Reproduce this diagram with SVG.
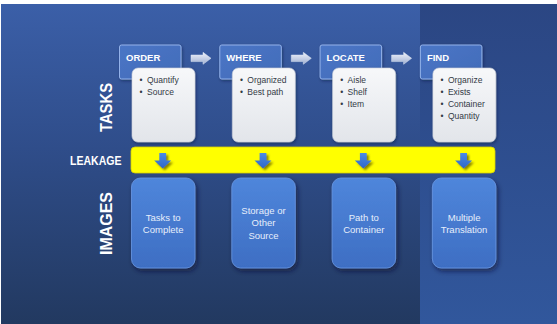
<svg xmlns="http://www.w3.org/2000/svg" width="557" height="324" viewBox="0 0 557 324">
  <defs>
    <linearGradient id="bgLeft" x1="0" y1="0" x2="0" y2="1">
      <stop offset="0" stop-color="#3b5fa8"/>
      <stop offset="0.45" stop-color="#2f4d8a"/>
      <stop offset="1" stop-color="#223960"/>
    </linearGradient>
    <linearGradient id="bgRight" x1="0" y1="0" x2="0" y2="1">
      <stop offset="0" stop-color="#2b4683"/>
      <stop offset="1" stop-color="#31579c"/>
    </linearGradient>
    <linearGradient id="hdr" x1="0" y1="0" x2="1" y2="1">
      <stop offset="0" stop-color="#4b76c6"/>
      <stop offset="1" stop-color="#416bb9"/>
    </linearGradient>
    <linearGradient id="card" x1="0" y1="0" x2="0" y2="1">
      <stop offset="0" stop-color="#f7f8fa"/>
      <stop offset="1" stop-color="#e2e5ea"/>
    </linearGradient>
    <linearGradient id="img" x1="0" y1="0" x2="0" y2="1">
      <stop offset="0" stop-color="#4f86db"/>
      <stop offset="1" stop-color="#3e6ec3"/>
    </linearGradient>
    <linearGradient id="rarrow" x1="0" y1="0" x2="0" y2="1">
      <stop offset="0" stop-color="#eef1f8"/>
      <stop offset="0.5" stop-color="#c8d2e7"/>
      <stop offset="1" stop-color="#9eaed0"/>
    </linearGradient>
    <linearGradient id="darrow" x1="0" y1="0" x2="0" y2="1">
      <stop offset="0" stop-color="#4b8be6"/>
      <stop offset="1" stop-color="#2f66c6"/>
    </linearGradient>
    <filter id="shadow" x="-20%" y="-20%" width="150%" height="150%">
      <feDropShadow dx="2" dy="3" stdDeviation="2.5" flood-color="#0a1530" flood-opacity="0.6"/>
    </filter>
    <filter id="softShadow" x="-20%" y="-20%" width="150%" height="150%">
      <feDropShadow dx="1" dy="1.5" stdDeviation="1.5" flood-color="#0a1530" flood-opacity="0.45"/>
    </filter>
    <filter id="arrowShadow" x="-40%" y="-40%" width="200%" height="200%">
      <feDropShadow dx="2" dy="2" stdDeviation="1.3" flood-color="#5e5800" flood-opacity="0.75"/>
    </filter>
    <path id="rightArrow" d="M191,55 H203 V52.3 L211,58.3 L203,64.3 V61.6 H191 Z"/>
    <path id="downArrow" d="M-3.4,153 H3.4 V160.5 H8.5 L0,168.5 L-8.5,160.5 H-3.4 Z"/>
  </defs>
  <style>
    .hdrBox { fill: url(#hdr); stroke: #93b2ea; stroke-width: 1; }
    .hdrText { font-family: "Liberation Sans", Arial, sans-serif; font-size: 9.5px; font-weight: bold; fill: #ffffff; }
    .cardBox { fill: url(#card); stroke: #c9ced8; stroke-width: 0.6; }
    .bullet { font-family: "Liberation Sans", Arial, sans-serif; font-size: 8.5px; fill: #333a45; }
    .imgBox { fill: url(#img); stroke: #6a98e4; stroke-width: 0.8; }
    .imgText { font-family: "Liberation Sans", Arial, sans-serif; font-size: 9.5px; fill: #e6eefb; text-anchor: middle; }
    .side { font-family: "Liberation Sans", Arial, sans-serif; font-weight: bold; fill: #ffffff; }
    .rArrow { fill: url(#rarrow); stroke: #dfe6f4; stroke-width: 0.5; }
    .dArrow { fill: url(#darrow); }
  </style>

  <!-- backdrop -->
  <rect x="0" y="0" width="557" height="324" fill="#ffffff"/>
  <rect x="1" y="4" width="419" height="320" fill="url(#bgLeft)"/>
  <rect x="420" y="4" width="137" height="320" fill="url(#bgRight)"/>

  <!-- row labels -->
  <g id="label-tasks">
    <text class="side" font-size="17" text-anchor="middle" textLength="49" lengthAdjust="spacingAndGlyphs" transform="translate(111.5,107.5) rotate(-90)">TASKS</text>
  </g>
  <g id="label-leakage">
    <text class="side" font-size="12" x="70" y="165" textLength="51.5" lengthAdjust="spacingAndGlyphs">LEAKAGE</text>
  </g>
  <g id="label-images">
    <text class="side" font-size="17" text-anchor="middle" textLength="63" lengthAdjust="spacingAndGlyphs" transform="translate(111.5,223.5) rotate(-90)">IMAGES</text>
  </g>

  <!-- leakage band -->
  <g id="leakage-band">
    <rect x="131" y="147" width="364" height="26" rx="4" fill="#ffff00" stroke="#d8d000" stroke-width="0.8"/>
  </g>

  <!-- task columns -->
  <g id="node-order">
    <rect class="hdrBox" x="119.5" y="45" width="61.5" height="34" rx="2" filter="url(#softShadow)"/>
    <text class="hdrText" x="126" y="61">ORDER</text>
    <rect class="cardBox" x="132" y="68" width="63" height="74" rx="6" filter="url(#softShadow)"/>
    <text class="bullet" x="139.6" y="83.3">•</text><text class="bullet" x="147" y="83.3">Quantify</text>
    <text class="bullet" x="139.6" y="95.3">•</text><text class="bullet" x="147" y="95.3">Source</text>
  </g>
  <g id="node-where" transform="translate(100.3,0)">
    <rect class="hdrBox" x="119.5" y="45" width="61.5" height="34" rx="2" filter="url(#softShadow)"/>
    <text class="hdrText" x="126" y="61">WHERE</text>
    <rect class="cardBox" x="132" y="68" width="63" height="74" rx="6" filter="url(#softShadow)"/>
    <text class="bullet" x="139.6" y="83.3">•</text><text class="bullet" x="147" y="83.3">Organized</text>
    <text class="bullet" x="139.6" y="95.3">•</text><text class="bullet" x="147" y="95.3">Best path</text>
  </g>
  <g id="node-locate" transform="translate(200.6,0)">
    <rect class="hdrBox" x="119.5" y="45" width="61.5" height="34" rx="2" filter="url(#softShadow)"/>
    <text class="hdrText" x="126" y="61">LOCATE</text>
    <rect class="cardBox" x="132" y="68" width="63" height="74" rx="6" filter="url(#softShadow)"/>
    <text class="bullet" x="139.6" y="83.3">•</text><text class="bullet" x="147" y="83.3">Aisle</text>
    <text class="bullet" x="139.6" y="95.3">•</text><text class="bullet" x="147" y="95.3">Shelf</text>
    <text class="bullet" x="139.6" y="107.3">•</text><text class="bullet" x="147" y="107.3">Item</text>
  </g>
  <g id="node-find" transform="translate(300.9,0)">
    <rect class="hdrBox" x="119.5" y="45" width="61.5" height="34" rx="2" filter="url(#softShadow)"/>
    <text class="hdrText" x="126" y="61">FIND</text>
    <rect class="cardBox" x="132" y="68" width="63" height="74" rx="6" filter="url(#softShadow)"/>
    <text class="bullet" x="139.6" y="83.3">•</text><text class="bullet" x="147" y="83.3">Organize</text>
    <text class="bullet" x="139.6" y="95.3">•</text><text class="bullet" x="147" y="95.3">Exists</text>
    <text class="bullet" x="139.6" y="107.3">•</text><text class="bullet" x="147" y="107.3">Container</text>
    <text class="bullet" x="139.6" y="119.3">•</text><text class="bullet" x="147" y="119.3">Quantity</text>
  </g>

  <!-- image boxes -->
  <g id="node-tasks-to-complete">
    <rect class="imgBox" x="131.5" y="178" width="63.5" height="90" rx="9" filter="url(#shadow)"/>
    <text class="imgText" x="163.2" y="220.5">Tasks to</text>
    <text class="imgText" x="163.2" y="233">Complete</text>
  </g>
  <g id="node-storage" transform="translate(100.3,0)">
    <rect class="imgBox" x="131.5" y="178" width="63.5" height="90" rx="9" filter="url(#shadow)"/>
    <text class="imgText" x="163.2" y="213.5">Storage or</text>
    <text class="imgText" x="163.2" y="226.3">Other</text>
    <text class="imgText" x="163.2" y="239">Source</text>
  </g>
  <g id="node-path" transform="translate(200.6,0)">
    <rect class="imgBox" x="131.5" y="178" width="63.5" height="90" rx="9" filter="url(#shadow)"/>
    <text class="imgText" x="163.2" y="220.5">Path to</text>
    <text class="imgText" x="163.2" y="233">Container</text>
  </g>
  <g id="node-translation" transform="translate(300.9,0)">
    <rect class="imgBox" x="131.5" y="178" width="63.5" height="90" rx="9" filter="url(#shadow)"/>
    <text class="imgText" x="163.2" y="220.5">Multiple</text>
    <text class="imgText" x="163.2" y="233">Translation</text>
  </g>

  <!-- connectors -->
  <g id="connectors">
    <use href="#rightArrow" class="rArrow"/>
    <use href="#rightArrow" class="rArrow" transform="translate(100.3,0)"/>
    <use href="#rightArrow" class="rArrow" transform="translate(200.6,0)"/>
    <g filter="url(#arrowShadow)">
      <use href="#downArrow" class="dArrow" transform="translate(162.7,0)"/>
      <use href="#downArrow" class="dArrow" transform="translate(263,0)"/>
      <use href="#downArrow" class="dArrow" transform="translate(363.3,0)"/>
      <use href="#downArrow" class="dArrow" transform="translate(463.6,0)"/>
    </g>
  </g>
</svg>
